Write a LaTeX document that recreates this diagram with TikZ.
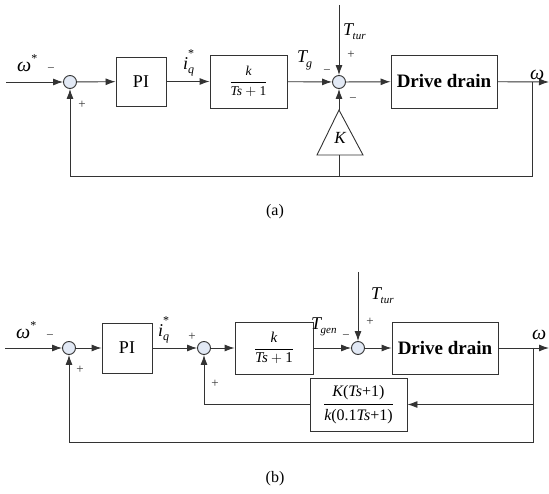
\documentclass[tikz,border=0pt]{standalone}
\usepackage{fontspec}
\setmainfont{Liberation Serif}
\usetikzlibrary{arrows.meta}
\definecolor{ln}{HTML}{333333}
\definecolor{sumfill}{HTML}{E2E9F5}
\begin{document}
\begin{tikzpicture}[x=1pt,y=-1pt,
  ln/.style={draw=ln, line width=0.9pt},
  arr/.style={ln, -{Latex[length=10pt,width=7pt]}},
  sumnode/.style={circle, draw=ln, line width=0.9pt, fill=sumfill, minimum size=13pt, inner sep=0pt},
  block/.style={draw=ln, line width=0.9pt, inner sep=0pt, font=\fontsize{18}{20}\selectfont},
  ddbox/.style={block, font=\bfseries\fontsize{19}{21}\selectfont},
  lab/.style={inner sep=0pt, font=\fontsize{18}{20}\selectfont},
  sgn/.style={inner sep=0pt, text=ln, font=\fontsize{13}{13}\selectfont},
  captxt/.style={inner sep=0pt, font=\fontsize{16}{18}\selectfont}]
\useasboundingbox (0,0) rectangle (549,494);

% ---------------- (a) ----------------
\coordinate (ina) at (6,82);
\node[sumnode] (s1a) at (70,82) {};
\node[block, minimum width=50pt, minimum height=49pt] (pia) at (141,81.5) {PI};
\node[block, minimum width=77pt, minimum height=53pt, font=\fontsize{13.5}{15}\selectfont] (ga) at (248.5,81.5)
  {$\displaystyle\frac{\mbox{\itshape k}}{\mbox{\itshape Ts}+\mbox{1}}$};
\node[sumnode] (s2a) at (339,82) {};
\node[ddbox, minimum width=106pt, minimum height=53pt] (dda) at (444,81.5) {Drive drain};
\coordinate (outa) at (549,82);
\coordinate (bra) at (532,82);
\coordinate (fba) at (70,176);
\coordinate (ttura) at (339,5);
\coordinate (kap) at (339,110);
\coordinate (kbl) at (317,155);
\coordinate (kbr) at (363,155);
\coordinate (kb) at (339,155);
\draw[ln] (kbl) -- (kap) -- (kbr) -- cycle;
\node[lab, font=\fontsize{17}{19}\selectfont] (ka) at (340,138) {\itshape K};

\draw[arr] (ina) -- (s1a);
\draw[arr] (s1a) -- (pia);
\draw[arr] (pia) -- (ga);
\draw[arr] (ga) -- (s2a);
\draw[arr] (s2a) -- (dda);
\draw[arr] (dda) -- (outa);
\draw[arr] (ttura) -- (s2a);
\draw[arr] (kap) -- (s2a);
\draw[arr] (bra) |- (fba) -- (s1a);
\draw[ln] (kb) -- (kb |- fba);

\node[lab, anchor=base west, font=\fontsize{20}{22}\selectfont] (wsa) at (17,72) {\itshape ω\raisebox{9pt}{\fontsize{12}{12}\selectfont\upshape *}};
\node[sgn] (m1a) at (51,70) {−};
\node[sgn] (p1a) at (82,105) {+};
\node[lab, anchor=base west] (iqa) at (183,70) {\itshape i\rlap{\raisebox{12pt}{\fontsize{12}{12}\selectfont\upshape *}}\raisebox{-4pt}{\fontsize{12}{12}\selectfont q}};
\node[lab, anchor=base west] (tga) at (297,63) {\itshape T\kern-1pt\raisebox{-5pt}{\fontsize{12}{12}\selectfont g}};
\node[lab, anchor=base west] (ttla) at (343,36) {\itshape T\kern-0.5pt\raisebox{-4pt}{\fontsize{11}{12}\selectfont tur}};
\node[sgn] (p2a) at (351,55) {+};
\node[sgn] (m2a) at (327,72) {−};
\node[sgn] (m3a) at (353,100) {−};
\node[lab, anchor=base west, font=\fontsize{20}{22}\selectfont] (woa) at (530,80) {\itshape ω};
\node[captxt] (capa) at (275,212) {(a)};

% ---------------- (b) ----------------
\coordinate (inb) at (5,348);
\node[sumnode] (s1b) at (69,348) {};
\node[block, minimum width=50pt, minimum height=50pt] (pib) at (127,348) {PI};
\node[sumnode] (s3b) at (204,348) {};
\node[block, minimum width=78pt, minimum height=52pt, font=\fontsize{15}{17}\selectfont] (gb) at (274,348)
  {$\displaystyle\frac{\mbox{\itshape k}}{\mbox{\itshape Ts}+\mbox{1}}$};
\node[sumnode] (s4b) at (358,348) {};
\node[ddbox, minimum width=106pt, minimum height=52pt] (ddb) at (445,348) {Drive drain};
\coordinate (outb) at (549,348);
\coordinate (brb) at (533,348);
\coordinate (tturb) at (358,272);
\node[block, minimum width=97pt, minimum height=53pt, font=\fontsize{16}{18}\selectfont] (fbk) at (358.5,404.5)
  {$\displaystyle\frac{\mbox{\itshape K\upshape(\itshape Ts\upshape+1)}}{\mbox{\itshape k\upshape(0.1\itshape Ts\upshape+1)}}$};
\coordinate (fbb) at (69,442);

\draw[arr] (inb) -- (s1b);
\draw[arr] (s1b) -- (pib);
\draw[arr] (pib) -- (s3b);
\draw[arr] (s3b) -- (gb);
\draw[arr] (gb) -- (s4b);
\draw[arr] (s4b) -- (ddb);
\draw[arr] (ddb) -- (outb);
\draw[arr] (tturb) -- (s4b);
\draw[arr] (brb) |- (fbk);
\draw[arr] (fbk) -| (s3b);
\draw[arr] (brb) |- (fbb) -- (s1b);

\node[lab, anchor=base west, font=\fontsize{20}{22}\selectfont] (wsb) at (16,338) {\itshape ω\raisebox{9pt}{\fontsize{12}{12}\selectfont\upshape *}};
\node[sgn] (m1b) at (50,337) {−};
\node[sgn] (p1b) at (80,370) {+};
\node[lab, anchor=base west] (iqb) at (158,337) {\itshape i\rlap{\raisebox{12pt}{\fontsize{12}{12}\selectfont\upshape *}}\raisebox{-4pt}{\fontsize{12}{12}\selectfont q}};
\node[sgn] (p3b) at (192,337) {+};
\node[sgn] (p4b) at (215,384) {+};
\node[lab, anchor=base west] (tgb) at (311,330) {\itshape T\kern-0.5pt\raisebox{-4pt}{\fontsize{11}{12}\selectfont gen}};
\node[sgn] (m2b) at (346,337) {−};
\node[lab, anchor=base west] (ttlb) at (371,300) {\itshape T\kern-0.5pt\raisebox{-4pt}{\fontsize{11}{12}\selectfont tur}};
\node[sgn] (p2b) at (370,322) {+};
\node[lab, anchor=base west, font=\fontsize{20}{22}\selectfont] (wob) at (532,340) {\itshape ω};
\node[captxt] (capb) at (275,479) {(b)};
\end{tikzpicture}
\end{document}
